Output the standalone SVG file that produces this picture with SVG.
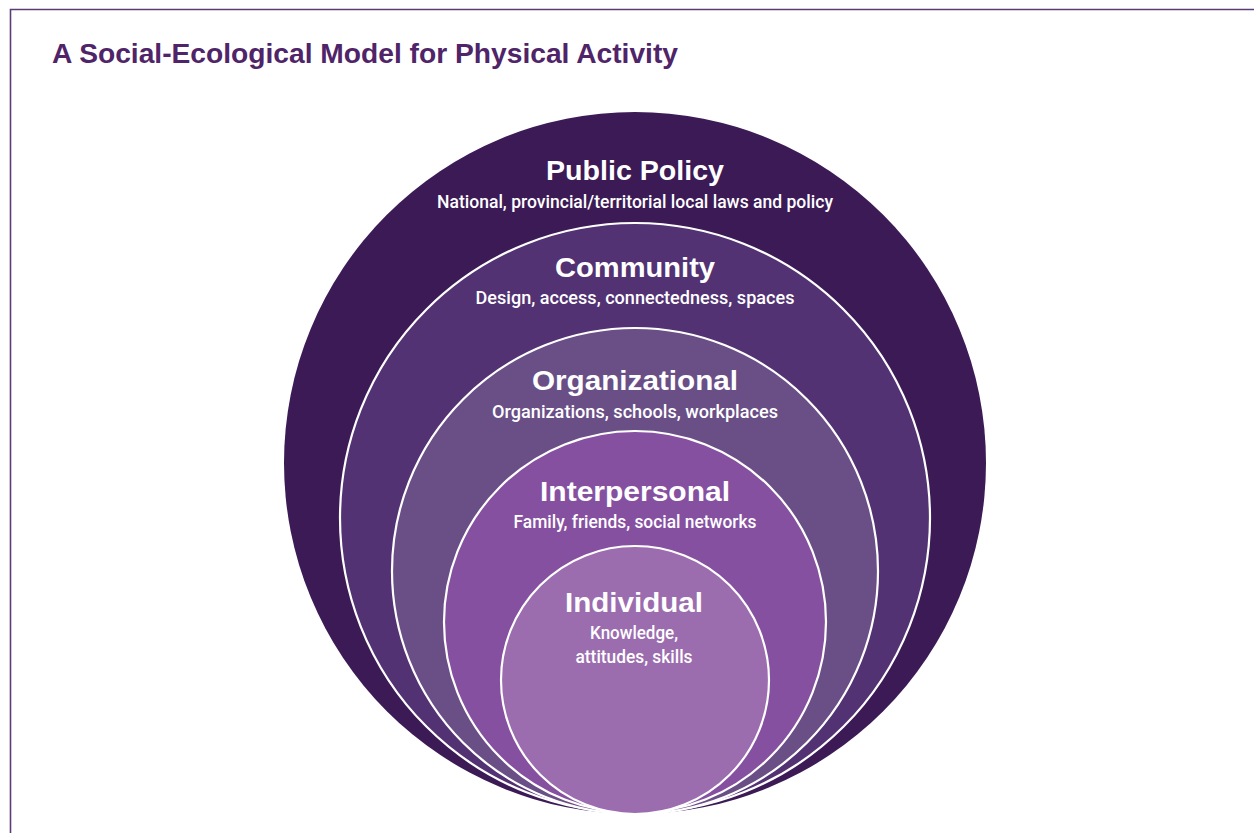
<svg xmlns="http://www.w3.org/2000/svg" width="1254" height="833" viewBox="0 0 1254 833">
  <style>
    .title { font-family: "Liberation Sans", Arial, sans-serif; font-weight: 700; font-size: 27px; fill: #4f2468; }
    .head { font-family: "Liberation Sans", Arial, sans-serif; font-weight: 700; font-size: 28px; fill: #ffffff; text-anchor: middle; }
    .sub { font-family: Roboto, "Liberation Sans", Arial, sans-serif; font-weight: 500; font-size: 18px; fill: #ffffff; text-anchor: middle; }
    .ring { stroke: #ffffff; stroke-width: 2.2; }
  </style>

  <!-- page background and frame -->
  <rect x="0" y="0" width="1254" height="833" fill="#ffffff"/>
  <path d="M1254 9.5 H10.5 V833" fill="none" stroke="#5a3d78" stroke-width="1.6"/>

  <text class="title" x="52" y="63" textLength="626" lengthAdjust="spacingAndGlyphs">A Social-Ecological Model for Physical Activity</text>

  <!-- nested levels, all touching at the bottom -->
  <g id="public-policy">
    <circle cx="635" cy="463" r="351" fill="#3b1a55"/>
    <text class="head" x="635" y="180" textLength="178" lengthAdjust="spacingAndGlyphs">Public Policy</text>
    <text class="sub" x="635" y="208" textLength="396" lengthAdjust="spacingAndGlyphs">National, provincial/territorial local laws and policy</text>
  </g>

  <g id="community">
    <circle class="ring" cx="635" cy="518" r="295" fill="#523273"/>
    <text class="head" x="635" y="277" textLength="160" lengthAdjust="spacingAndGlyphs">Community</text>
    <text class="sub" x="635" y="304" textLength="319" lengthAdjust="spacingAndGlyphs">Design, access, connectedness, spaces</text>
  </g>

  <g id="organizational">
    <circle class="ring" cx="635" cy="571" r="243" fill="#6a4f87"/>
    <text class="head" x="635" y="390" textLength="206" lengthAdjust="spacingAndGlyphs">Organizational</text>
    <text class="sub" x="635" y="418" textLength="286" lengthAdjust="spacingAndGlyphs">Organizations, schools, workplaces</text>
  </g>

  <g id="interpersonal">
    <circle class="ring" cx="635" cy="622" r="191" fill="#8650a1"/>
    <text class="head" x="635" y="501" textLength="190" lengthAdjust="spacingAndGlyphs">Interpersonal</text>
    <text class="sub" x="635" y="528" textLength="243" lengthAdjust="spacingAndGlyphs">Family, friends, social networks</text>
  </g>

  <g id="individual">
    <circle class="ring" cx="635" cy="680" r="134" fill="#9b6daf"/>
    <text class="head" x="634" y="612" textLength="138" lengthAdjust="spacingAndGlyphs">Individual</text>
    <text class="sub" x="634" y="639" textLength="88" lengthAdjust="spacingAndGlyphs">Knowledge,</text>
    <text class="sub" x="634" y="663" textLength="117" lengthAdjust="spacingAndGlyphs">attitudes, skills</text>
  </g>

  <!-- no connectors in this figure -->
  <g id="connectors"/>
</svg>
